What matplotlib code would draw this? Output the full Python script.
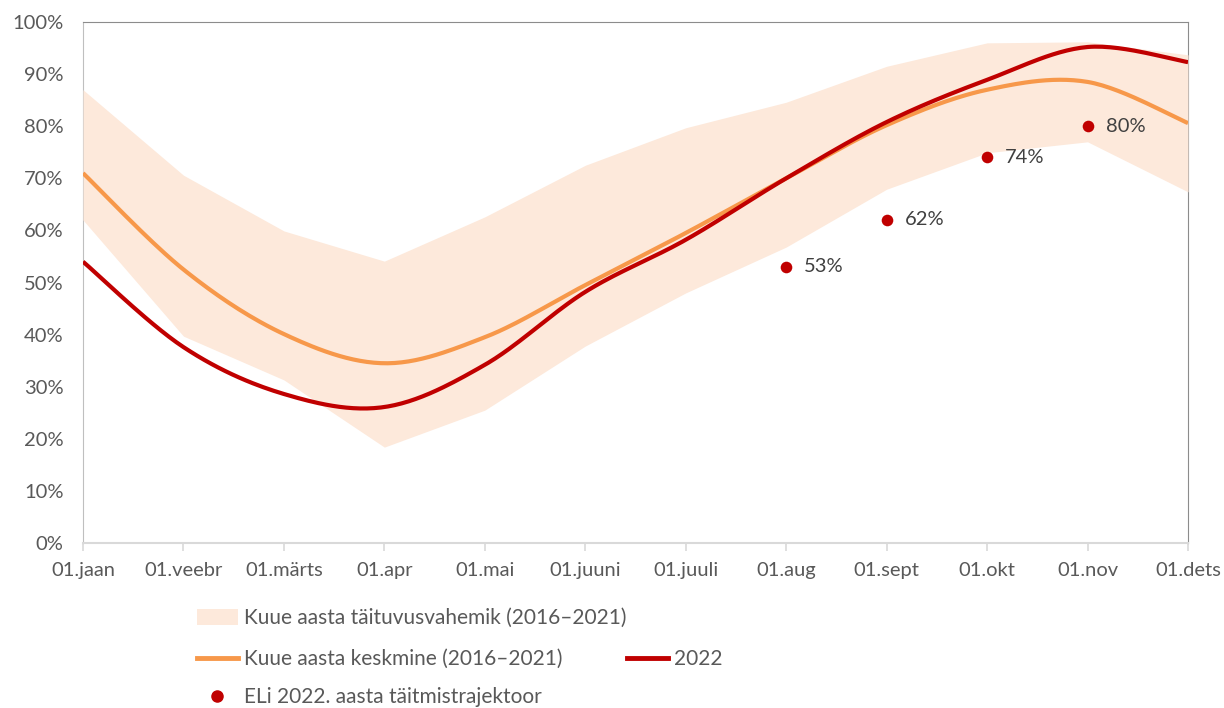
import numpy as np
import matplotlib
matplotlib.use("Agg")
import matplotlib.pyplot as plt
from matplotlib.patches import Patch
from matplotlib.lines import Line2D

plt.rcParams['font.family'] = ['Lato', 'DejaVu Sans']

months = ["01.jaan", "01.veebr", "01.märts", "01.apr", "01.mai", "01.juuni",
          "01.juuli", "01.aug", "01.sept", "01.okt", "01.nov", "01.dets"]
band_low = [62.0, 39.7, 31.3, 18.4, 25.5, 37.8, 48.0, 56.8, 67.9, 74.9, 77.0, 67.4]
band_high = [87.0, 70.6, 59.9, 54.1, 62.6, 72.5, 79.7, 84.6, 91.5, 96.0, 96.2, 93.7]
mean_2016_2021 = [71.0, 52.5, 40.1, 34.5, 39.5, 49.5, 59.5, 70.0, 80.2, 87.0, 88.5, 80.6]
y2022 = [54.0, 37.6, 28.6, 26.1, 34.2, 48.2, 58.2, 70.0, 80.8, 88.9, 95.2, 92.3]
eu_idx = [7, 8, 9, 10]
eu_vals = [53, 62, 74, 80]

def smooth(xs, ys, n=30):
    xs = np.asarray(xs, float); ys = np.asarray(ys, float)
    px = np.concatenate([[xs[0]], xs, [xs[-1]]])
    py = np.concatenate([[ys[0]], ys, [ys[-1]]])
    ox, oy = [], []
    t = np.linspace(0, 1, n)
    for i in range(1, len(px) - 2):
        p0, p1, p2, p3 = (np.array([px[j], py[j]]) for j in (i - 1, i, i + 1, i + 2))
        c1 = p1 + (p2 - p0) / 6
        c2 = p2 - (p3 - p1) / 6
        b = ((1 - t) ** 3)[:, None] * p1 + (3 * (1 - t) ** 2 * t)[:, None] * c1 + \
            (3 * (1 - t) * t ** 2)[:, None] * c2 + (t ** 3)[:, None] * p2
        ox.extend(b[:, 0]); oy.extend(b[:, 1])
    return np.array(ox), np.array(oy)

fig = plt.figure(figsize=(12.24, 7.08), dpi=100)
ax = fig.add_axes([83/1224, 1-543/708, (1188-83)/1224, (543-22)/708])

x = np.arange(len(months))
gray = "#595959"
ax.fill_between(x, band_low, band_high, color="#fde9db", lw=0, zorder=2.6)
sx, sy = smooth(x, mean_2016_2021)
ax.plot(sx, sy, color="#f7984a", lw=3.0, zorder=3, solid_capstyle="butt")
sx, sy = smooth(x, y2022)
ax.plot(sx, sy, color="#c00000", lw=3.0, zorder=4, solid_capstyle="butt")
ax.scatter(x[eu_idx], eu_vals, s=70, color="#c00000", zorder=5, linewidths=0)
for i, v in zip(eu_idx, eu_vals):
    ax.annotate(f"{v}%", (i, v), xytext=(13, 0), textcoords="offset points",
                va="center", ha="left", fontsize=14.5, color="#404040")

ax.set_xlim(0, len(months) - 1)
ax.set_ylim(0, 100)
ax.set_xticks(x)
ax.set_xticklabels(months)
ax.set_yticks(np.arange(0, 101, 10))
ax.set_yticklabels([f"{v}%" for v in range(0, 101, 10)])
ax.tick_params(axis='x', length=6, color="#d9d9d9", width=1.2, labelsize=14.5,
               labelcolor=gray, pad=8)
ax.tick_params(axis='y', length=0, labelsize=14.5, labelcolor=gray, pad=14)
for s in ("top", "right"):
    ax.spines[s].set_color("#8c8c8c")
ax.spines["left"].set_color("#bfbfbf")
ax.spines["bottom"].set_color("#d9d9d9")
ax.spines["bottom"].set_linewidth(1.5)

h1 = Patch(facecolor="#fde9db", edgecolor="none")
h2 = Line2D([], [], color="#f7984a", lw=3.5)
h3 = Line2D([], [], color="#c00000", lw=3.5)
h4 = Line2D([], [], marker="o", ls="none", color="#c00000", markersize=8)

common = dict(frameon=False, fontsize=15, labelcolor=gray, handlelength=1.95,
              handletextpad=0.3, borderpad=0, borderaxespad=0, loc="center left")
fig.legend([h1], ["Kuue aasta täituvusvahemik (2016–2021)"],
           bbox_to_anchor=(197/1224, 1-618/708), handleheight=0.8, **common)
fig.legend([h2], ["Kuue aasta keskmine (2016–2021)"],
           bbox_to_anchor=(197/1224, 1-659/708), **common)
fig.legend([h3], ["2022"], bbox_to_anchor=(627/1224, 1-659/708), **common)
fig.legend([h4], ["ELi 2022. aasta täitmistrajektoor"],
           bbox_to_anchor=(197/1224, 1-697/708), **common)

fig.savefig("out.png", dpi=100)
